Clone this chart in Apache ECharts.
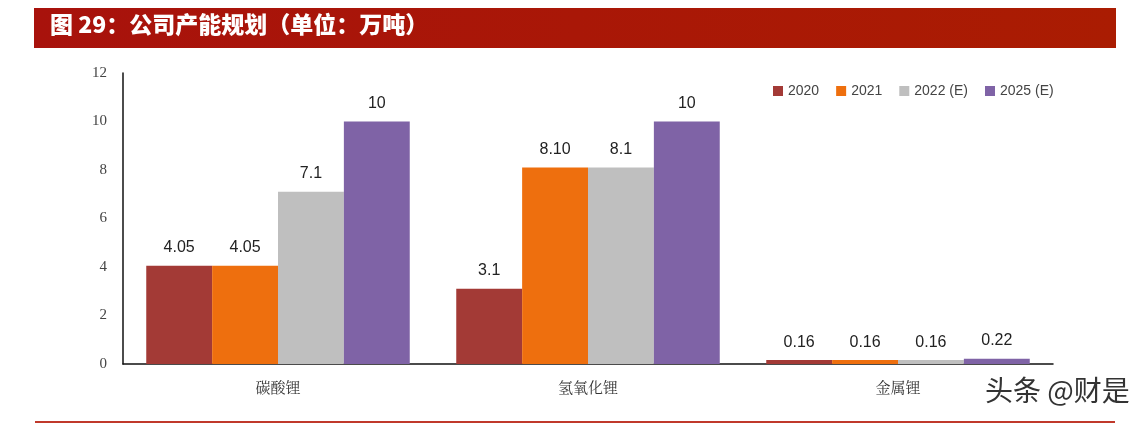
<!DOCTYPE html>
<html><head><meta charset="utf-8">
<script src="https://cdn.jsdelivr.net/npm/echarts@6/dist/echarts.min.js"></script>
<style>html,body{margin:0;padding:0;background:#fff}#c{width:1148px;height:428px}</style>
</head><body><div id="c"></div>
<script>
var categories = ['碳酸锂', '氢氧化锂', '金属锂'];
var seriesNames = ['2020', '2021', '2022 (E)', '2025 (E)'];
var v2020 = [4.05, 3.1, 0.16];
var v2021 = [4.05, 8.10, 0.16];
var v2022 = [7.1, 8.1, 0.16];
var v2025 = [10, 10, 0.22];
var l2020 = ['4.05', '3.1', '0.16'];
var l2021 = ['4.05', '8.10', '0.16'];
var l2022 = ['7.1', '8.1', '0.16'];
var l2025 = ['10', '10', '0.22'];
var yTicks = [0, 2, 4, 6, 8, 10, 12];
var colors = ['#A33A36', '#EE6F0E', '#BFBFBF', '#7F63A6'];

var chart = echarts.init(document.getElementById('c'));
function mk(i, vals, labs) {
  return {
    name: seriesNames[i], type: 'bar', data: vals,
    itemStyle: { color: colors[i] },
    barGap: '0%', barCategoryGap: '15%',
    label: { show: true, position: 'top', distance: 10, color: '#222', fontSize: 16,
      fontFamily: 'Liberation Sans, Arial, sans-serif',
      formatter: function (p) { return labs[p.dataIndex]; } }
  };
}
chart.setOption({
  animation: false,
  backgroundColor: '#fff',
  graphic: [
    { type: 'rect', shape: { x: 34, y: 8, width: 1082, height: 40 },
      style: { fill: new echarts.graphic.LinearGradient(0, 0, 1, 0, [{ offset: 0, color: '#A8120C' }, { offset: 1, color: '#AA1C02' }]) } },
    { type: 'text', left: 50, top: 13, style: { text: '图 29：公司产能规划（单位：万吨）', fill: '#fff',
      font: '900 23px "Noto Sans CJK SC", sans-serif' } },
    { type: 'rect', shape: { x: 35, y: 421, width: 1080, height: 2 }, style: { fill: '#C0392B' } },
    { type: 'text', left: 985, top: 376, style: { text: '头条 @财是', fill: '#333',
      font: '28px "Noto Sans CJK SC", sans-serif' } }
  ],
  legend: {
    data: seriesNames, left: 768, top: 79, itemWidth: 10, itemHeight: 10, itemGap: 17,
    icon: 'rect',
    textStyle: { color: '#444', fontSize: 14, fontFamily: 'Liberation Sans, Arial, sans-serif' }
  },
  grid: { left: 123, right: 95, top: 73, bottom: 64 },
  xAxis: {
    type: 'category', data: categories,
    axisLine: { lineStyle: { color: '#111', width: 1.5 } },
    axisTick: { show: false },
    axisLabel: { color: '#333', fontSize: 15, margin: 16, fontFamily: '"Noto Serif CJK SC", "Noto Sans CJK SC", serif' }
  },
  yAxis: {
    type: 'value', min: 0, max: 12, interval: 2,
    axisLine: { show: true, lineStyle: { color: '#111', width: 1.5 } },
    axisTick: { show: false },
    splitLine: { show: false },
    axisLabel: { color: '#444', fontSize: 15, margin: 16, fontFamily: '"Liberation Serif", "Times New Roman", serif',
      formatter: function (v) { return yTicks.indexOf(v) >= 0 ? String(v) : ''; } }
  },
  series: [mk(0, v2020, l2020), mk(1, v2021, l2021), mk(2, v2022, l2022), mk(3, v2025, l2025)]
});
</script></body></html>
